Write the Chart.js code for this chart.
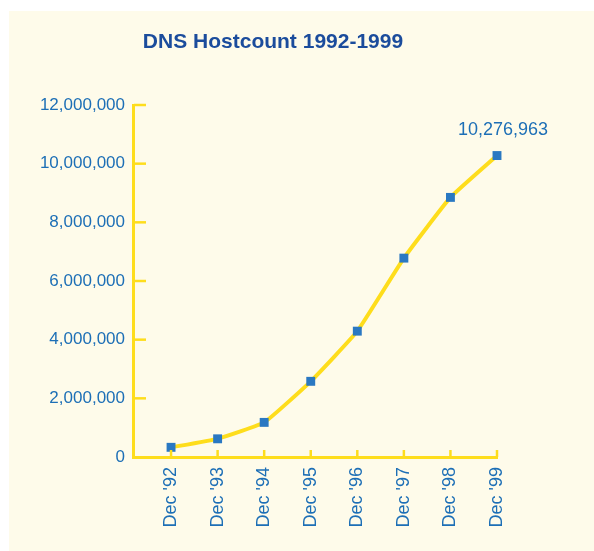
<!DOCTYPE html>
<html>
<head>
<meta charset="utf-8">
<script src="https://cdn.jsdelivr.net/npm/chart.js@4/dist/chart.umd.min.js"></script>
<style>
  body { margin: 0; background: #ffffff; }
  #panel { position: absolute; left: 9px; top: 11px; width: 585px; height: 540px; background: #fefbea; }
</style>
</head>
<body>
<div id="panel"><canvas id="chart" width="585" height="540"></canvas></div>
<script>
const categories = ["Dec '92", "Dec '93", "Dec '94", "Dec '95", "Dec '96", "Dec '97", "Dec '98", "Dec '99"];
const hostcount = [330000, 620000, 1180000, 2580000, 4290000, 6780000, 8850000, 10276963];
const yTicks = [0, 2000000, 4000000, 6000000, 8000000, 10000000, 12000000];
const titleText = 'DNS Hostcount 1992-1999';

const labelBlue = '#1d6fb6';
const yellow = '#fedd1c';

// title, inward tick marks and the last-value label
const extras = {
  id: 'extras',
  afterDraw(chart) {
    const ctx = chart.ctx;
    const x = chart.scales.x;
    const y = chart.scales.y;
    ctx.save();
    ctx.strokeStyle = yellow;
    ctx.lineWidth = 2.5;
    yTicks.forEach(v => {
      if (v === 0) return;
      const py = y.getPixelForValue(v);
      ctx.beginPath();
      ctx.moveTo(x.left + 1, py);
      ctx.lineTo(x.left + 13, py);
      ctx.stroke();
    });
    categories.forEach((c, i) => {
      const px = x.getPixelForValue(i);
      ctx.beginPath();
      ctx.moveTo(px, y.bottom);
      ctx.lineTo(px, y.bottom - 7);
      ctx.stroke();
    });

    ctx.fillStyle = '#1b4c9c';
    ctx.font = 'bold 21px "Liberation Sans", Arial, sans-serif';
    ctx.textAlign = 'center';
    ctx.textBaseline = 'alphabetic';
    ctx.fillText(titleText, 264, 37);

    const last = hostcount.length - 1;
    ctx.fillStyle = labelBlue;
    ctx.font = '18px "Liberation Sans", Arial, sans-serif';
    ctx.fillText(hostcount[last].toLocaleString('en-US'),
      x.getPixelForValue(last) + 6, y.getPixelForValue(hostcount[last]) - 21);
    ctx.restore();
  }
};

new Chart(document.getElementById('chart'), {
  type: 'line',
  data: {
    datasets: [{
      data: hostcount.map((v, i) => ({ x: i, y: v })),
      borderColor: yellow,
      borderWidth: 4,
      tension: 0.12,
      pointStyle: 'rect',
      pointRadius: 6.3,
      pointBackgroundColor: '#2a78c2',
      pointBorderColor: '#2a78c2',
      pointBorderWidth: 0,
      clip: false
    }]
  },
  options: {
    responsive: false,
    animation: false,
    layout: { padding: { top: 94, right: 97, left: 0, bottom: 0 } },
    plugins: { legend: { display: false }, tooltip: { enabled: false } },
    scales: {
      x: {
        type: 'linear',
        min: -0.817,
        max: 7,
        afterBuildTicks: s => { s.ticks = categories.map((c, i) => ({ value: i })); },
        afterFit: s => { s.height = 94; },
        grid: { display: false, drawTicks: false },
        border: { color: yellow, width: 3 },
        ticks: {
          autoSkip: false,
          minRotation: 90,
          maxRotation: 90,
          padding: 10,
          color: labelBlue,
          font: { family: '"Liberation Sans", Arial, sans-serif', size: 18 },
          callback: v => categories[v]
        }
      },
      y: {
        min: 0,
        max: 12000000,
        afterBuildTicks: s => { s.ticks = yTicks.map(v => ({ value: v })); },
        afterFit: s => { s.width = 124; },
        grid: { display: false, drawTicks: false },
        border: { color: yellow, width: 3 },
        ticks: {
          padding: 8,
          color: labelBlue,
          font: { family: '"Liberation Sans", Arial, sans-serif', size: 17 },
          callback: v => v.toLocaleString('en-US')
        }
      }
    }
  },
  plugins: [extras]
});
</script>
</body>
</html>
